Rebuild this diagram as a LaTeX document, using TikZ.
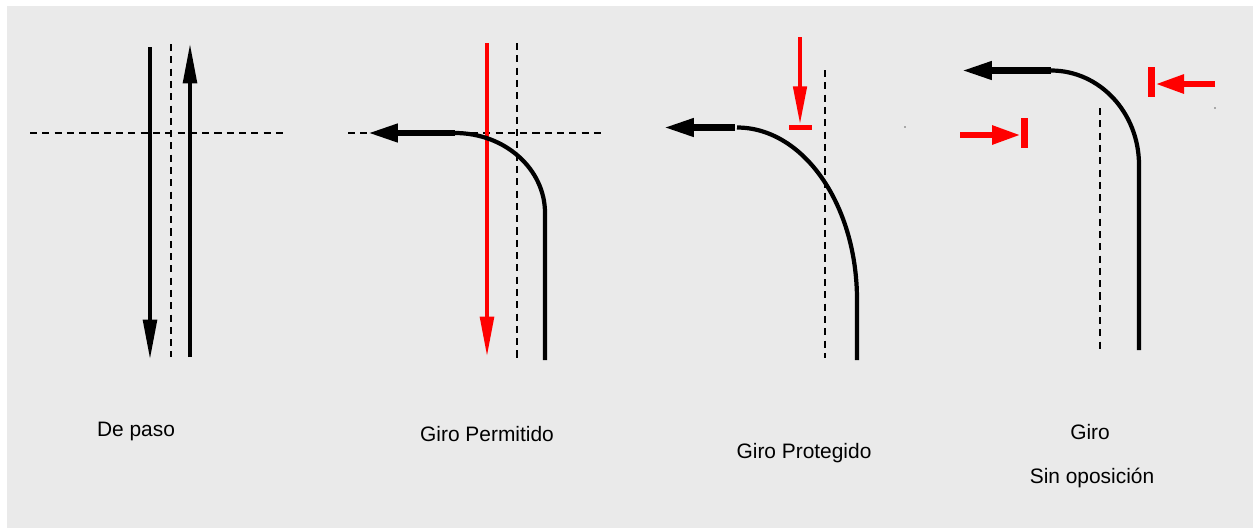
\documentclass[tikz,border=0pt]{standalone}
\usepackage{fontspec}
\setmainfont{Liberation Sans}
\usetikzlibrary{arrows.meta}
\definecolor{panelgrey}{RGB}{234,234,234}

\begin{document}
\begin{tikzpicture}[
    x=0.02cm, y=-0.02cm,
    divider/.style={dash pattern=on 4pt off 3pt, line width=1.2pt},
    thruarrow/.style={line width=2.6pt, -{Triangle[length=23pt,width=7.6pt]}},
    turnline/.style={line width=2.4pt},
    turnshaft/.style={line width=3.6pt, -{Triangle[length=17pt,width=9.8pt]}},
    sidearrow/.style={red, line width=3.8pt, -{Triangle[length=16.5pt,width=10pt]}},
    stopbar/.style={red, line width=4pt},
    caption/.style={font=\fontsize{11.9}{14}\selectfont, inner sep=0pt}
]
\useasboundingbox (0,0) rectangle (1253,529);
\fill[panelgrey] (7,6) rectangle (1253,528);

% De paso
\draw[divider] (30,133) -- (285,133);
\draw[divider] (171,44) -- (171,357);
\coordinate (downS) at (150,47);
\coordinate (downE) at (150,360);
\coordinate (upS) at (190,357);
\coordinate (upE) at (190,43);
\draw[thruarrow] (downS) -- (downE);
\draw[thruarrow] (upS) -- (upE);
\node[caption] (paso) at (136,431) {De paso};

% Giro permitido
\draw[divider] (348,133) -- (603,133);
\draw[divider] (517,43) -- (517,358);
\coordinate (permS) at (487,43);
\coordinate (permE) at (487,357);
\draw[thruarrow, red] (permS) -- (permE);
\coordinate (permA) at (545,360);
\coordinate (permB) at (455,133);
\coordinate (permT) at (368,133);
\draw[turnline] (permA) -- (545,213) .. controls (545,169) and (505,133) .. (permB);
\draw[turnshaft] (permB) -- (permT);
\node[caption] (permitido) at (487,434) {Giro Permitido};

% Giro protegido
\draw[divider] (825,70) -- (825,358);
\coordinate (protS) at (800,37);
\coordinate (protE) at (800,125);
\draw[thruarrow, red, -{Triangle[length=22pt,width=7.4pt]}] (protS) -- (protE);
\draw[stopbar, line width=3.4pt] (789,127.5) -- (812,127.5);
\coordinate (protA) at (857,360);
\coordinate (protB) at (737,127.5);
\coordinate (protC) at (735,127.5);
\coordinate (protT) at (664,127.5);
\draw[turnline] (protA) -- (857,300) .. controls (857,204) and (803,127.5) .. (protB);
\draw[turnshaft] (protC) -- (protT);
\fill[black!60] (905,127) circle (0.8);
\node[caption] (protegido) at (804,453) {Giro Protegido};

% Giro sin oposicion
\draw[divider] (1100,108) -- (1100,350);
\coordinate (freeA) at (1139,350);
\coordinate (freeB) at (1051,70.5);
\coordinate (freeT) at (962,70.5);
\draw[turnline] (freeA) -- (1139,165) .. controls (1139,113) and (1100,70.5) .. (freeB);
\draw[turnshaft] (freeB) -- (freeT);
\coordinate (rightS) at (1215,84);
\coordinate (rightE) at (1155,84);
\draw[sidearrow] (rightS) -- (rightE);
\draw[stopbar, line width=4.3pt] (1151.5,67) -- (1151.5,97);
\coordinate (leftS) at (960,135);
\coordinate (leftE) at (1021,135);
\draw[sidearrow] (leftS) -- (leftE);
\draw[stopbar, line width=4pt] (1024,118) -- (1024,148);
\fill[black!60] (1215,108) circle (0.8);
\node[caption] (giro) at (1090,432) {Giro};
\node[caption] (sinop) at (1092,478) {Sin oposición};
\end{tikzpicture}
\end{document}
